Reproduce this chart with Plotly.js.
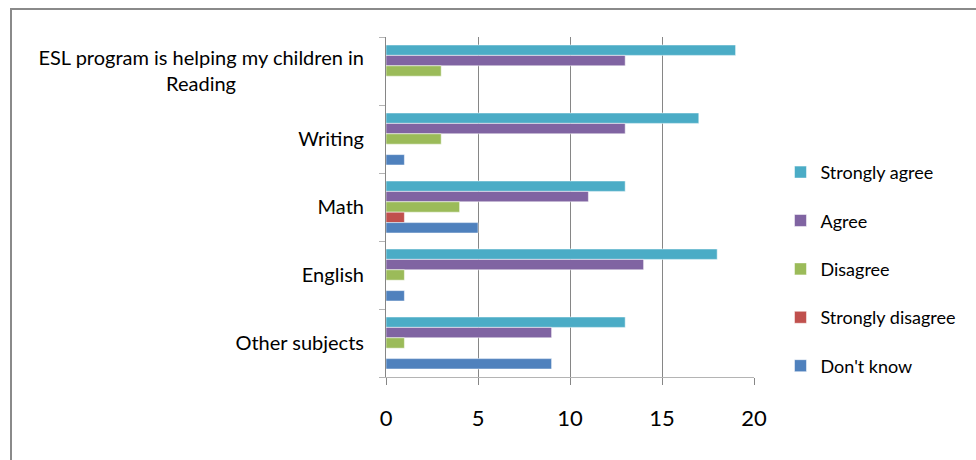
<!DOCTYPE html>
<html>
<head>
<meta charset="utf-8">
<script src="https://cdn.plot.ly/plotly-3.0.1.min.js"></script>
<style>
  html, body { margin: 0; padding: 0; background: #fff; }
  #wrap { position: relative; width: 976px; height: 460px; }
  #chart { position: absolute; left: 0; top: 0; width: 976px; height: 460px; }
  #frame { position: absolute; left: 10px; top: 8px; width: 966px; height: 452px;
           border-left: 2px solid #8a8a8a; border-top: 2px solid #8a8a8a; pointer-events: none; box-sizing: border-box; }
</style>
</head>
<body>
<div id="wrap"><div id="chart"></div><div id="frame"></div></div>
<script>
const categories = ["ESL program is helping my children in Reading", "Writing", "Math", "English", "Other subjects"];
const seriesNames = ["Strongly agree", "Agree", "Disagree", "Strongly disagree", "Don't know"];
const stronglyAgree    = [19, 17, 13, 18, 13];
const agree            = [13, 13, 11, 14, 9];
const disagree         = [3, 3, 4, 1, 1];
const stronglyDisagree = [0, 0, 1, 0, 0];
const dontKnow         = [0, 1, 5, 1, 9];
const xTicks = [0, 5, 10, 15, 20];

const colors = ["#4BACC6", "#8064A2", "#9BBB59", "#C0504D", "#4F81BD"];
const values = [stronglyAgree, agree, disagree, stronglyDisagree, dontKnow];

const nb = "\u00a0";
const tickText = [
  "ESL program is helping my children in<br>Reading" + nb.repeat(25),
  "Writing", "Math", "English", "Other subjects"
];

const traces = seriesNames.map((name, i) => ({
  type: "bar",
  orientation: "h",
  name: name,
  x: values[i],
  y: categories,
  legendgroup: "g" + i,
  marker: { color: colors[i], line: { color: "rgba(255,255,255,0.5)", width: 1 } },
  hoverinfo: "x+y+name"
}));

const FONT = "Lato, 'Open Sans', sans-serif";

const layout = {
  width: 976, height: 460,
  margin: { l: 386, r: 222, t: 37, b: 83, pad: 0 },
  paper_bgcolor: "#ffffff",
  plot_bgcolor: "#ffffff",
  font: { family: FONT, color: "#000" },
  barmode: "group",
  bargap: 0.235,
  bargroupgap: 0,
  showlegend: true,
  legend: {
    x: 1.072, xanchor: "left", y: 0.318, yanchor: "middle",
    font: { size: 18, family: FONT },
    tracegroupgap: 22,
    itemwidth: 30,
    bgcolor: "rgba(0,0,0,0)"
  },
  xaxis: {
    range: [0, 20],
    tickvals: xTicks,
    ticktext: xTicks.map(String),
    showgrid: true, gridcolor: "#868686", gridwidth: 1,
    zeroline: false,
    showline: true, linecolor: "#b4b4b4", linewidth: 1,
    ticks: "outside", ticklen: 7, tickcolor: "#868686",
    ticklabelstandoff: 15,
    tickfont: { size: 22, family: FONT, color: "#000" }
  },
  yaxis: {
    type: "category",
    autorange: "reversed",
    tickvals: categories,
    ticktext: tickText,
    tickson: "boundaries",
    showgrid: false,
    zeroline: false,
    showline: true, linecolor: "#868686", linewidth: 1,
    ticks: "outside", ticklen: 6, tickcolor: "#b4b4b4",
    ticklabelstandoff: 17,
    tickfont: { size: 20, family: FONT, color: "#000" }
  }
};

Plotly.newPlot("chart", traces, layout, { displayModeBar: false, staticPlot: true });
</script>
</body>
</html>
